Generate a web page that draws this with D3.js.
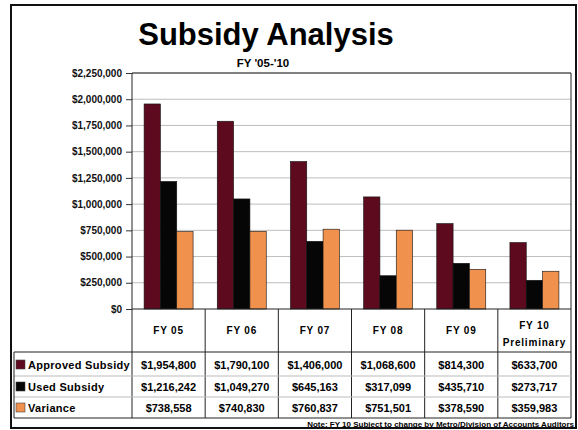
<!DOCTYPE html>
<html>
<head>
<meta charset="utf-8">
<script src="https://cdn.jsdelivr.net/npm/d3@7"></script>
<style>
  body { margin: 0; background: #fff; }
  svg { display: block; font-family: "Liberation Sans", Arial, sans-serif; }
</style>
</head>
<body>
<svg id="chart" width="578" height="430"></svg>
<script>
// data
const categories = ["FY 05", "FY 06", "FY 07", "FY 08", "FY 09", "FY 10 Preliminary"];
const seriesNames = ["Approved Subsidy", "Used Subsidy", "Variance"];
const approved = [1954800, 1790100, 1406000, 1068600, 814300, 633700];
const used = [1216242, 1049270, 645163, 317099, 435710, 273717];
const variance = [738558, 740830, 760837, 751501, 378590, 359983];
const yTicks = [0, 250000, 500000, 750000, 1000000, 1250000, 1500000, 1750000, 2000000, 2250000];

const colors = ["#5e0a1e", "#060606", "#f0924e"];
const seriesValues = [approved, used, variance];

const svg = d3.select("#chart");

const plot = { left: 132, right: 571, top: 73, bottom: 309 };
const tableBottom = 418;
const rowLines = [352, 376, 397, 418];

// outer frame
svg.append("rect")
    .attr("x", 11).attr("y", 5)
    .attr("width", 565).attr("height", 423)
    .attr("fill", "none").attr("stroke", "#111").attr("stroke-width", 2);

// titles
svg.append("text")
    .attr("x", 266).attr("y", 45)
    .attr("text-anchor", "middle")
    .style("font-size", "31px").style("font-weight", "bold")
    .text("Subsidy Analysis");

svg.append("text")
    .attr("x", 263).attr("y", 67)
    .attr("text-anchor", "middle")
    .style("font-size", "11.5px").style("font-weight", "bold")
    .text("FY '05-'10");

const x = d3.scaleBand()
    .domain(categories)
    .range([plot.left, plot.right]);

const xInner = d3.scaleBand()
    .domain(seriesNames)
    .range([0, x.bandwidth()])
    .paddingOuter(0.74);

const y = d3.scaleLinear()
    .domain([0, 2250000])
    .range([plot.bottom, plot.top]);

// gridlines
svg.append("g")
    .selectAll("line")
    .data(yTicks.slice(1))
    .enter().append("line")
    .attr("x1", plot.left).attr("x2", plot.right)
    .attr("y1", d => y(d)).attr("y2", d => y(d))
    .attr("stroke", "#bdbdbd").attr("stroke-width", 1);

// y axis
const yAxis = svg.append("g")
    .attr("transform", `translate(${plot.left},0)`)
    .call(d3.axisLeft(y).tickValues(yTicks).tickSize(6).tickPadding(4)
        .tickFormat(d => "$" + d3.format(",")(d)));
yAxis.select(".domain").remove();
yAxis.selectAll("line").attr("stroke", "#333");
yAxis.selectAll("text")
    .style("font-size", "10px").style("font-weight", "bold")
    .style("font-family", "'Liberation Sans', Arial, sans-serif")
    .attr("fill", "#111");

// bars
const bars = svg.append("g");
seriesNames.forEach((s, i) => {
    bars.selectAll(".bar-" + i)
        .data(categories.map((c, j) => ({ cat: c, value: seriesValues[i][j] })))
        .enter().append("rect")
        .attr("x", d => x(d.cat) + xInner(s))
        .attr("y", d => y(d.value))
        .attr("width", xInner.bandwidth())
        .attr("height", d => plot.bottom - y(d.value))
        .attr("fill", colors[i])
        .attr("stroke", "#111").attr("stroke-width", 0.6);
});

// plot frame & column dividers
const lines = svg.append("g").attr("stroke", "#222").attr("stroke-width", 1);
lines.append("line").attr("x1", plot.left).attr("x2", plot.right).attr("y1", plot.top).attr("y2", plot.top);
lines.append("line").attr("x1", plot.left).attr("x2", plot.right).attr("y1", plot.bottom).attr("y2", plot.bottom);
const dividers = categories.map(c => x(c)).concat([plot.right]);
lines.selectAll(".div")
    .data(dividers)
    .enter().append("line")
    .attr("x1", d => d).attr("x2", d => d)
    .attr("y1", (d, i) => (i === 0 || i === dividers.length - 1) ? plot.top : plot.bottom)
    .attr("y2", tableBottom);

// table rows
lines.selectAll(".row")
    .data(rowLines)
    .enter().append("line")
    .attr("x1", 14).attr("x2", plot.right)
    .attr("y1", d => d).attr("y2", d => d)
    .attr("stroke", (d, i) => i === 0 || i === rowLines.length - 1 ? "#222" : "#bbb");
lines.append("line").attr("x1", 14).attr("x2", 14).attr("y1", rowLines[0]).attr("y2", tableBottom);

// category headers
const header = svg.append("g")
    .style("font-size", "10px").style("font-weight", "bold")
    .style("letter-spacing", "0.8px");
categories.forEach(c => {
    const cx = x(c) + x.bandwidth() / 2;
    if (c.indexOf("Preliminary") >= 0) {
        header.append("text").attr("x", cx).attr("y", 329).attr("text-anchor", "middle").text("FY 10");
        header.append("text").attr("x", cx).attr("y", 346).attr("text-anchor", "middle").text("Preliminary");
    } else {
        header.append("text").attr("x", cx).attr("y", 334).attr("text-anchor", "middle").text(c);
    }
});

// table body
const rowBase = [369, 391, 412];
seriesNames.forEach((s, i) => {
    svg.append("rect")
        .attr("x", 16).attr("y", rowBase[i] - 9)
        .attr("width", 9).attr("height", 9)
        .attr("fill", colors[i]).attr("stroke", "#444").attr("stroke-width", 0.6);
    svg.append("text")
        .attr("x", 28).attr("y", rowBase[i])
        .style("font-size", "11px").style("font-weight", "bold")
        .style("letter-spacing", "0.3px")
        .text(s);
    svg.append("g").selectAll("text")
        .data(seriesValues[i])
        .enter().append("text")
        .attr("x", (d, j) => x(categories[j]) + x.bandwidth() / 2)
        .attr("y", rowBase[i])
        .attr("text-anchor", "middle")
        .style("font-size", "11px").style("font-weight", "bold")
        .text(d => "$" + d3.format(",")(d));
});

// note
svg.append("text")
    .attr("x", 574).attr("y", 427)
    .attr("text-anchor", "end")
    .style("font-size", "8px").style("font-weight", "bold")
    .text("Note: FY 10 Subject to change by Metro/Division of Accounts Auditors");
</script>
</body>
</html>
